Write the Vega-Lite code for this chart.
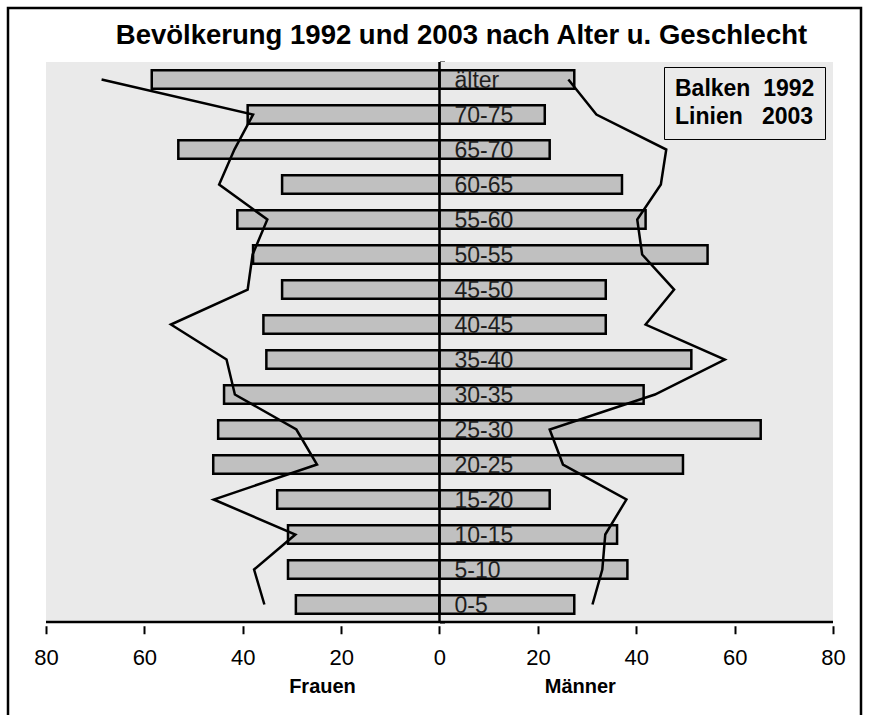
{
  "$schema": "https://vega.github.io/schema/vega-lite/v6.json",
  "width": 853,
  "height": 707,
  "autosize": {"type": "none"},
  "padding": {"left": 8, "top": 8, "right": 8, "bottom": 0},
  "background": "white",
  "title": {
    "text": "Bevölkerung 1992 und 2003 nach Alter u. Geschlecht",
    "font": "Liberation Sans",
    "fontSize": 27.5,
    "fontWeight": "bold",
    "color": "black",
    "anchor": "middle",
    "baseline": "alphabetic",
    "offset": -35,
    "dx": 27,
    "dy": 28
  },
  "config": {
    "font": "Liberation Sans",
    "view": {"stroke": "black", "strokeWidth": 2.5, "strokeDash": [1560, 853, 707], "fill": "white"}
  },
  "datasets": {
    "bevoelkerung": [
      {"alter": "älter", "ab": 75, "geschlecht": "Frauen", "jahr": 1992, "wert": -58.5},
      {"alter": "70-75", "ab": 70, "geschlecht": "Frauen", "jahr": 1992, "wert": -39.0},
      {"alter": "65-70", "ab": 65, "geschlecht": "Frauen", "jahr": 1992, "wert": -53.1},
      {"alter": "60-65", "ab": 60, "geschlecht": "Frauen", "jahr": 1992, "wert": -32.0},
      {"alter": "55-60", "ab": 55, "geschlecht": "Frauen", "jahr": 1992, "wert": -41.1},
      {"alter": "50-55", "ab": 50, "geschlecht": "Frauen", "jahr": 1992, "wert": -37.9},
      {"alter": "45-50", "ab": 45, "geschlecht": "Frauen", "jahr": 1992, "wert": -32.0},
      {"alter": "40-45", "ab": 40, "geschlecht": "Frauen", "jahr": 1992, "wert": -35.8},
      {"alter": "35-40", "ab": 35, "geschlecht": "Frauen", "jahr": 1992, "wert": -35.2},
      {"alter": "30-35", "ab": 30, "geschlecht": "Frauen", "jahr": 1992, "wert": -43.8},
      {"alter": "25-30", "ab": 25, "geschlecht": "Frauen", "jahr": 1992, "wert": -45.0},
      {"alter": "20-25", "ab": 20, "geschlecht": "Frauen", "jahr": 1992, "wert": -46.0},
      {"alter": "15-20", "ab": 15, "geschlecht": "Frauen", "jahr": 1992, "wert": -33.0},
      {"alter": "10-15", "ab": 10, "geschlecht": "Frauen", "jahr": 1992, "wert": -30.8},
      {"alter": "5-10", "ab": 5, "geschlecht": "Frauen", "jahr": 1992, "wert": -30.8},
      {"alter": "0-5", "ab": 0, "geschlecht": "Frauen", "jahr": 1992, "wert": -29.2},
      {"alter": "älter", "ab": 75, "geschlecht": "Männer", "jahr": 1992, "wert": 27.4},
      {"alter": "70-75", "ab": 70, "geschlecht": "Männer", "jahr": 1992, "wert": 21.4},
      {"alter": "65-70", "ab": 65, "geschlecht": "Männer", "jahr": 1992, "wert": 22.4},
      {"alter": "60-65", "ab": 60, "geschlecht": "Männer", "jahr": 1992, "wert": 37.1},
      {"alter": "55-60", "ab": 55, "geschlecht": "Männer", "jahr": 1992, "wert": 41.9},
      {"alter": "50-55", "ab": 50, "geschlecht": "Männer", "jahr": 1992, "wert": 54.5},
      {"alter": "45-50", "ab": 45, "geschlecht": "Männer", "jahr": 1992, "wert": 33.8},
      {"alter": "40-45", "ab": 40, "geschlecht": "Männer", "jahr": 1992, "wert": 33.8},
      {"alter": "35-40", "ab": 35, "geschlecht": "Männer", "jahr": 1992, "wert": 51.2},
      {"alter": "30-35", "ab": 30, "geschlecht": "Männer", "jahr": 1992, "wert": 41.5},
      {"alter": "25-30", "ab": 25, "geschlecht": "Männer", "jahr": 1992, "wert": 65.3},
      {"alter": "20-25", "ab": 20, "geschlecht": "Männer", "jahr": 1992, "wert": 49.5},
      {"alter": "15-20", "ab": 15, "geschlecht": "Männer", "jahr": 1992, "wert": 22.4},
      {"alter": "10-15", "ab": 10, "geschlecht": "Männer", "jahr": 1992, "wert": 36.1},
      {"alter": "5-10", "ab": 5, "geschlecht": "Männer", "jahr": 1992, "wert": 38.2},
      {"alter": "0-5", "ab": 0, "geschlecht": "Männer", "jahr": 1992, "wert": 27.4},
      {"alter": "älter", "ab": 75, "geschlecht": "Frauen", "jahr": 2003, "wert": -68.7},
      {"alter": "70-75", "ab": 70, "geschlecht": "Frauen", "jahr": 2003, "wert": -37.9},
      {"alter": "65-70", "ab": 65, "geschlecht": "Frauen", "jahr": 2003, "wert": -41.7},
      {"alter": "60-65", "ab": 60, "geschlecht": "Frauen", "jahr": 2003, "wert": -44.8},
      {"alter": "55-60", "ab": 55, "geschlecht": "Frauen", "jahr": 2003, "wert": -35.0},
      {"alter": "50-55", "ab": 50, "geschlecht": "Frauen", "jahr": 2003, "wert": -38.0},
      {"alter": "45-50", "ab": 45, "geschlecht": "Frauen", "jahr": 2003, "wert": -39.0},
      {"alter": "40-45", "ab": 40, "geschlecht": "Frauen", "jahr": 2003, "wert": -54.6},
      {"alter": "35-40", "ab": 35, "geschlecht": "Frauen", "jahr": 2003, "wert": -43.3},
      {"alter": "30-35", "ab": 30, "geschlecht": "Frauen", "jahr": 2003, "wert": -41.6},
      {"alter": "25-30", "ab": 25, "geschlecht": "Frauen", "jahr": 2003, "wert": -29.1},
      {"alter": "20-25", "ab": 20, "geschlecht": "Frauen", "jahr": 2003, "wert": -24.9},
      {"alter": "15-20", "ab": 15, "geschlecht": "Frauen", "jahr": 2003, "wert": -45.9},
      {"alter": "10-15", "ab": 10, "geschlecht": "Frauen", "jahr": 2003, "wert": -29.3},
      {"alter": "5-10", "ab": 5, "geschlecht": "Frauen", "jahr": 2003, "wert": -37.7},
      {"alter": "0-5", "ab": 0, "geschlecht": "Frauen", "jahr": 2003, "wert": -35.6},
      {"alter": "älter", "ab": 75, "geschlecht": "Männer", "jahr": 2003, "wert": 26.2},
      {"alter": "70-75", "ab": 70, "geschlecht": "Männer", "jahr": 2003, "wert": 31.9},
      {"alter": "65-70", "ab": 65, "geschlecht": "Männer", "jahr": 2003, "wert": 46.1},
      {"alter": "60-65", "ab": 60, "geschlecht": "Männer", "jahr": 2003, "wert": 45.0},
      {"alter": "55-60", "ab": 55, "geschlecht": "Männer", "jahr": 2003, "wert": 40.2},
      {"alter": "50-55", "ab": 50, "geschlecht": "Männer", "jahr": 2003, "wert": 41.2},
      {"alter": "45-50", "ab": 45, "geschlecht": "Männer", "jahr": 2003, "wert": 47.7},
      {"alter": "40-45", "ab": 40, "geschlecht": "Männer", "jahr": 2003, "wert": 41.9},
      {"alter": "35-40", "ab": 35, "geschlecht": "Männer", "jahr": 2003, "wert": 58.0},
      {"alter": "30-35", "ab": 30, "geschlecht": "Männer", "jahr": 2003, "wert": 43.8},
      {"alter": "25-30", "ab": 25, "geschlecht": "Männer", "jahr": 2003, "wert": 22.4},
      {"alter": "20-25", "ab": 20, "geschlecht": "Männer", "jahr": 2003, "wert": 25.1},
      {"alter": "15-20", "ab": 15, "geschlecht": "Männer", "jahr": 2003, "wert": 38.0},
      {"alter": "10-15", "ab": 10, "geschlecht": "Männer", "jahr": 2003, "wert": 33.7},
      {"alter": "5-10", "ab": 5, "geschlecht": "Männer", "jahr": 2003, "wert": 33.1},
      {"alter": "0-5", "ab": 0, "geschlecht": "Männer", "jahr": 2003, "wert": 31.1}
    ]
  },
  "layer": [
    {
      "description": "grey plot area behind the pyramid",
      "data": {"values": [{}]},
      "mark": {"type": "rect", "fill": "#eaeaea", "stroke": null},
      "encoding": {
        "x": {
          "datum": -80, "type": "quantitative",
          "scale": {"domain": [-87.725, 85.692], "nice": false, "zero": false},
          "axis": {
            "orient": "bottom",
            "offset": -89.25,
            "values": [-80, -60, -40, -20, 0, 20, 40, 60, 80],
            "labelExpr": "abs(datum.value)",
            "domain": false,
            "grid": false,
            "tickSize": 8,
            "tickWidth": 2,
            "tickColor": "black",
            "labelFont": "Liberation Sans",
            "labelFontSize": 22,
            "labelColor": "black",
            "labelPadding": 14,
            "labelFlush": false,
            "labelOverlap": false,
            "title": "Frauen\u00a0\u00a0\u00a0\u00a0\u00a0\u00a0\u00a0\u00a0\u00a0\u00a0\u00a0\u00a0\u00a0\u00a0\u00a0\u00a0\u00a0\u00a0\u00a0\u00a0\u00a0\u00a0\u00a0\u00a0\u00a0\u00a0\u00a0\u00a0\u00a0\u00a0\u00a0\u00a0\u00a0\u00a0Männer",
            "titleFont": "Liberation Sans",
            "titleFontSize": 20,
            "titleFontWeight": "bold",
            "titleColor": "black",
            "titlePadding": 8,
            "titleX": 444
          }
        },
        "x2": {"datum": 80},
        "y": {
          "datum": -2.5, "type": "quantitative",
          "scale": {"domain": [-15.07, 84.507], "nice": false, "zero": false},
          "axis": {
            "orient": "right",
            "offset": -421.5,
            "values": [-2.5, 2.5, 7.5, 12.5, 17.5, 22.5, 27.5, 32.5, 37.5, 42.5, 47.5, 52.5, 57.5, 62.5, 67.5, 72.5, 77.5],
            "labels": false,
            "domain": false,
            "grid": false,
            "tickSize": 5,
            "tickWidth": 2,
            "tickColor": "black",
            "title": null
          }
        },
        "y2": {"datum": 77.5}
      }
    },
    {
      "description": "bars for 1992",
      "data": {"name": "bevoelkerung"},
      "transform": [{"filter": "datum.jahr == 1992"}],
      "mark": {"type": "bar", "orient": "horizontal", "height": 18.5, "stroke": "black", "strokeWidth": 2.5},
      "encoding": {
        "x": {"field": "wert", "type": "quantitative", "scale": {"domain": [-87.725, 85.692], "nice": false, "zero": false}},
        "x2": {"datum": 0},
        "y": {"field": "ab", "type": "quantitative", "scale": {"domain": [-15.07, 84.507], "nice": false, "zero": false}},
        "color": {
          "field": "jahr", "type": "nominal",
          "scale": {"domain": [1992, 2003], "range": ["#c0c0c0", "#000000"]},
          "legend": {
            "orient": "none",
            "legendX": 656,
            "legendY": 59,
            "title": null,
            "strokeColor": "black",
            "padding": 10,
            "rowPadding": 4,
            "symbolSize": 0.01,
            "symbolOpacity": 0,
            "symbolStrokeWidth": 0,
            "labelOffset": -22,
            "labelFont": "Liberation Sans",
            "labelFontSize": 23,
            "labelFontWeight": "bold",
            "labelColor": "black",
            "labelExpr": "datum.value == 1992 ? 'Balken\u00a0\u00a01992' : 'Linien\u00a0\u00a0\u00a02003'",
            "encode": {"legend": {"update": {"strokeWidth": {"value": 2.5}, "stroke": {"value": "black"}}}}
          }
        }
      }
    },
    {
      "description": "lines for 2003",
      "data": {"name": "bevoelkerung"},
      "transform": [{"filter": "datum.jahr == 2003"}],
      "mark": {"type": "line", "strokeWidth": 2.5, "strokeJoin": "miter"},
      "encoding": {
        "x": {"field": "wert", "type": "quantitative", "scale": {"domain": [-87.725, 85.692], "nice": false, "zero": false}},
        "y": {"field": "ab", "type": "quantitative", "scale": {"domain": [-15.07, 84.507], "nice": false, "zero": false}},
        "detail": {"field": "geschlecht"},
        "order": {"field": "ab", "type": "quantitative"},
        "color": {"field": "jahr", "type": "nominal", "scale": {"domain": [1992, 2003], "range": ["#c0c0c0", "#000000"]}}
      }
    },
    {
      "description": "age group labels next to the centre line",
      "data": {"name": "bevoelkerung"},
      "transform": [{"filter": "datum.jahr == 1992 && datum.geschlecht == 'Männer'"}],
      "mark": {"type": "text", "align": "left", "baseline": "middle", "dx": 15, "dy": 1, "font": "Liberation Sans", "fontSize": 23, "fill": "#1e1e1e"},
      "encoding": {
        "x": {"datum": 0, "type": "quantitative", "scale": {"domain": [-87.725, 85.692], "nice": false, "zero": false}},
        "y": {"field": "ab", "type": "quantitative", "scale": {"domain": [-15.07, 84.507], "nice": false, "zero": false}},
        "text": {"field": "alter"}
      }
    },
    {
      "description": "vertical centre axis line",
      "data": {"values": [{}]},
      "mark": {"type": "rule", "stroke": "black", "strokeWidth": 2.5},
      "encoding": {
        "x": {"datum": 0, "type": "quantitative", "scale": {"domain": [-87.725, 85.692], "nice": false, "zero": false}},
        "y": {"datum": -2.5, "type": "quantitative", "scale": {"domain": [-15.07, 84.507], "nice": false, "zero": false}},
        "y2": {"datum": 77.5}
      }
    },
    {
      "description": "horizontal base axis line",
      "data": {"values": [{}]},
      "mark": {"type": "rule", "stroke": "black", "strokeWidth": 2.5},
      "encoding": {
        "x": {"datum": -80, "type": "quantitative", "scale": {"domain": [-87.725, 85.692], "nice": false, "zero": false}},
        "x2": {"datum": 80},
        "y": {"datum": -2.5, "type": "quantitative", "scale": {"domain": [-15.07, 84.507], "nice": false, "zero": false}}
      }
    }
  ]
}
